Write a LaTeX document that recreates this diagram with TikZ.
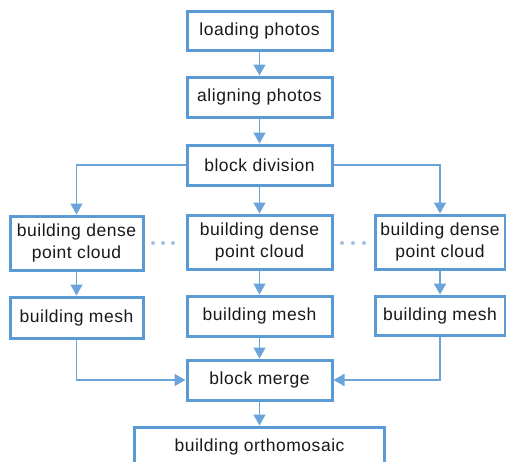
\documentclass[tikz,border=0pt]{standalone}
\usepackage{fontspec}
\setmainfont[LetterSpace=3]{Liberation Sans}
\usetikzlibrary{arrows.meta}
\definecolor{boxblue}{HTML}{5B9BD5}
\definecolor{linkblue}{HTML}{6AA4DA}
\definecolor{dotblue}{HTML}{A3BFDD}
\begin{document}
\begin{tikzpicture}[x=1pt,y=-1pt,
  stepbox/.style={draw=boxblue, line width=3pt, fill=white, inner sep=0pt,
    font=\fontsize{17.5}{22}\selectfont, align=center, text=black!90},
  link/.style={draw=linkblue, line width=1.7pt, -{Triangle[length=11pt,width=12pt]}}]
\useasboundingbox (0,0) rectangle (506,461);
\clip (0,0) rectangle (506,461);

% main chain
\node[stepbox, minimum width=145, minimum height=39] (load) at (259.5,30.5) {loading photos};
\node[stepbox, minimum width=145, minimum height=40] (align) at (259.5,97) {aligning photos};
\node[stepbox, minimum width=145, minimum height=40] (div) at (259.5,165) {block division};

% three processing branches
\node[stepbox, minimum width=133, minimum height=54] (dl) at (76.5,243) {building dense\\point cloud};
\node[stepbox, minimum width=145, minimum height=54] (dm) at (259.5,242) {building dense\\point cloud};
\node[stepbox, minimum width=130, minimum height=54] (dr) at (440,242) {building dense\\point cloud};

\node[stepbox, minimum width=133, minimum height=41] (ml) at (76.5,317.5) {building mesh};
\node[stepbox, minimum width=145, minimum height=40] (mm) at (259.5,316) {building mesh};
\node[stepbox, minimum width=130, minimum height=39] (mr) at (440,315.5) {building mesh};

\node[stepbox, minimum width=145, minimum height=40] (merge) at (259.5,380) {block merge};
\node[stepbox, minimum width=250, minimum height=40] (ortho) at (259.5,447) {building orthomosaic};

% connectors
\draw[link] (load) -- (align);
\draw[link] (align) -- (div);
\draw[link] (div) -- (dm);
\draw[link] (div.west) -| (dl.north);
\draw[link] (div.east) -| (dr.north);
\draw[link] (dl) -- (ml);
\draw[link] (dm) -- (mm);
\draw[link] (dr) -- (mr);
\draw[link] (ml.south) |- (merge.west);
\draw[link] (mr.south) |- (merge.east);
\draw[link] (mm) -- (merge);
\draw[link] (merge) -- (ortho);

% ellipses between branches
\foreach \x in {153,163,173,342,353,364}
  \fill[dotblue] (\x,243) circle (2);
\end{tikzpicture}
\end{document}
